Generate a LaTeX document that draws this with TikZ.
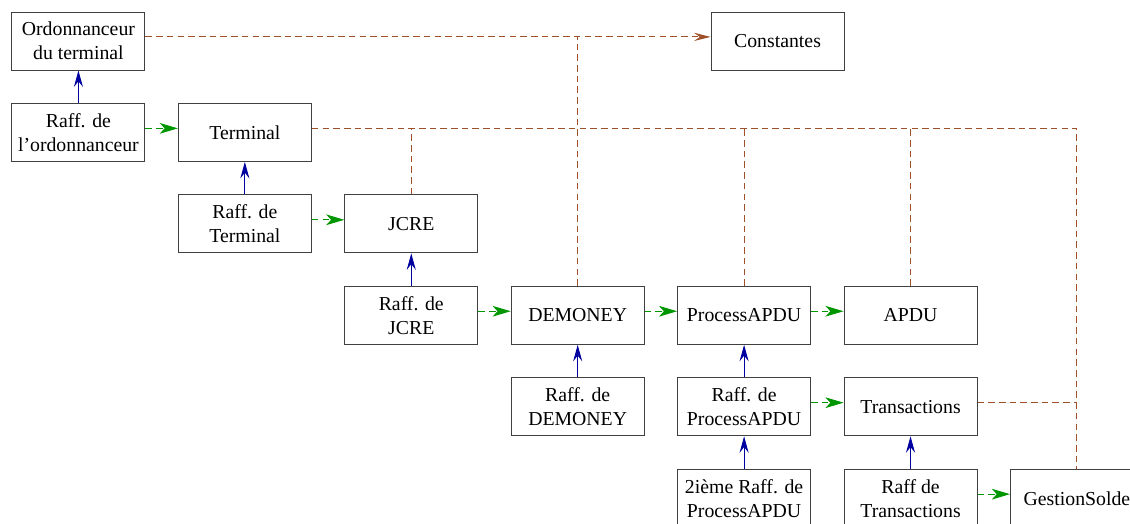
\documentclass[tikz,border=0pt]{standalone}
\usepackage{fontspec}
\setmainfont{Liberation Serif}
\usepackage{tikz}
\usetikzlibrary{positioning, arrows.meta}

\definecolor{raffblue}{RGB}{0,0,160}
\definecolor{usegreen}{RGB}{0,150,0}
\definecolor{seebrown}{RGB}{160,80,40}

\begin{document}
\begin{tikzpicture}[
        node distance=19.7pt and 19.7pt,
        box/.style={draw=black!75, line width=0.6pt, align=center, inner sep=2pt,
            minimum width=80.7pt, minimum height=35.2pt,
            font=\fontsize{12}{14.5}\selectfont},
        raff/.style={-{Stealth[length=10pt, width=5.5pt, inset=3.5pt]}, raffblue, line width=0.6pt},
        uses/.style={-{Stealth[length=11pt, width=6.5pt, inset=3pt, fill=usegreen]}, usegreen, line width=0.6pt,
            dash pattern=on 4pt off 2.5pt},
        sees/.style={seebrown, line width=0.6pt, dash pattern=on 4pt off 2.5pt}
    ]
    \clip (-47.6pt,24.9pt) rectangle (638.2pt,-292.6pt);

    \node[box] (ord) at (0,0) {Ordonnanceur\\du terminal};
    \node[box, below=of ord] (raffOrd) {Raff. de\\l'ordonnanceur};
    \node[box, right=of raffOrd] (term) {Terminal};
    \node[box, below=of term] (raffTerm) {Raff. de\\Terminal};
    \node[box, right=of raffTerm] (jcre) {JCRE};
    \node[box, below=of jcre] (raffJcre) {Raff. de\\JCRE};
    \node[box, right=of raffJcre] (demoney) {DEMONEY};
    \node[box, right=of demoney] (proc) {ProcessAPDU};
    \node[box, right=of proc] (apdu) {APDU};
    \node[box, below=of demoney] (raffDem) {Raff. de\\DEMONEY};
    \node[box, below=of proc] (raffProc) {Raff. de\\ProcessAPDU};
    \node[box, below=of apdu] (trans) {Transactions};
    \node[box, below=of raffProc] (raffProc2) {2ième Raff. de\\ProcessAPDU};
    \node[box, below=of trans] (raffTrans) {Raff de\\Transactions};
    \node[box, right=of raffTrans] (gestion) {GestionSolde};
    \node[box] (const) at ([xshift=20.3pt]ord -| proc) {Constantes};

    % raffinements
    \draw[raff] (raffOrd) -- (ord);
    \draw[raff] (raffTerm) -- (term);
    \draw[raff] (raffJcre) -- (jcre);
    \draw[raff] (raffDem) -- (demoney);
    \draw[raff] (raffProc) -- (proc);
    \draw[raff] (raffProc2) -- (raffProc);
    \draw[raff] (raffTrans) -- (trans);

    % uses
    \draw[uses] ([yshift=2.5pt]raffOrd.east) -- ([yshift=2.5pt]term.west);
    \draw[uses] ([yshift=2.5pt]raffTerm.east) -- ([yshift=2.5pt]jcre.west);
    \draw[uses] ([yshift=2.5pt]raffJcre.east) -- ([yshift=2.5pt]demoney.west);
    \draw[uses] ([yshift=2.5pt]demoney.east) -- ([yshift=2.5pt]proc.west);
    \draw[uses] ([yshift=2.5pt]proc.east) -- ([yshift=2.5pt]apdu.west);
    \draw[uses] ([yshift=2.5pt]raffProc.east) -- ([yshift=2.5pt]trans.west);
    \draw[uses] ([yshift=2.5pt]raffTrans.east) -- ([yshift=2.5pt]gestion.west);

    % sees
    \draw[sees, -{Stealth[length=10pt, width=5pt, inset=3.5pt]}] ([yshift=2.5pt]ord.east) -- ([yshift=2.5pt]const.west);
    \draw[sees] (demoney.north) -- ([yshift=2.5pt]demoney |- ord.east);
    \draw[sees] ([yshift=2.5pt]term.east) -| (gestion.north);
    \draw[sees] (jcre.north) -- ([yshift=2.5pt]jcre |- term.east);
    \draw[sees] (proc.north) -- ([yshift=2.5pt]proc |- term.east);
    \draw[sees] (apdu.north) -- ([yshift=2.5pt]apdu |- term.east);
    \draw[sees] ([yshift=2.5pt]trans.east) -- ([yshift=2.5pt]trans.east -| gestion);
\end{tikzpicture}
\end{document}
